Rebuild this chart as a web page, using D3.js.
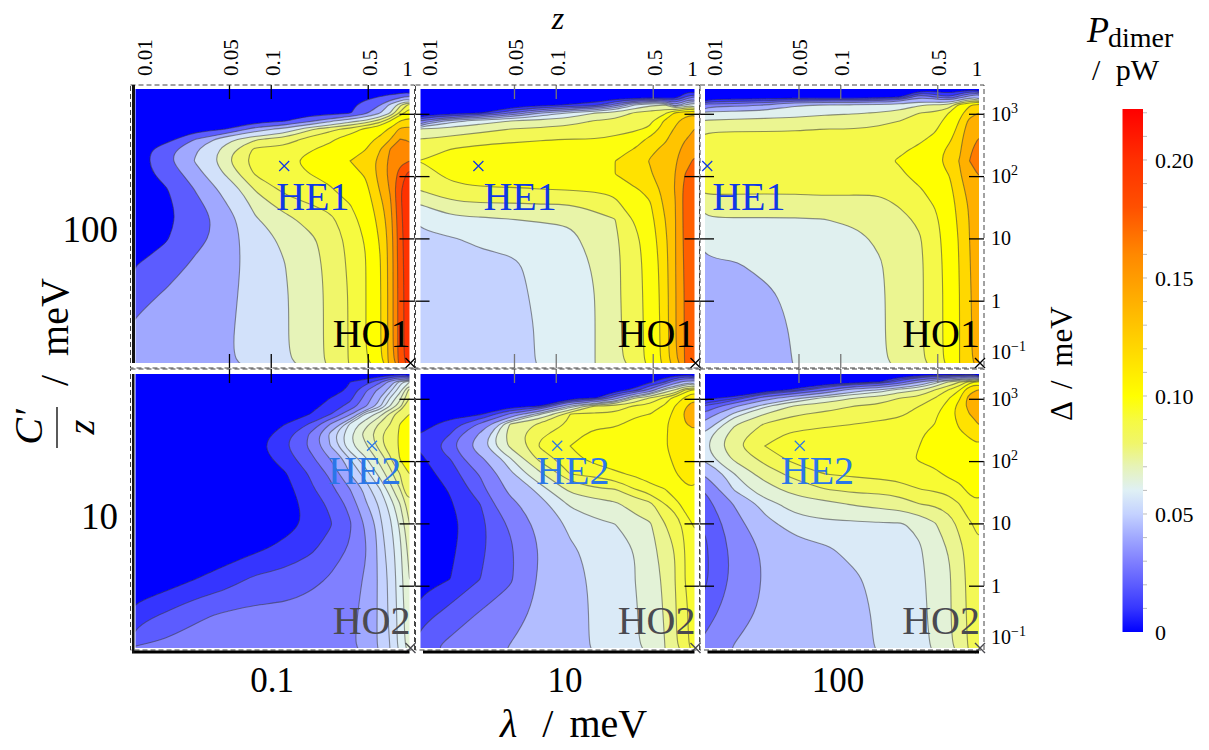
<!DOCTYPE html>
<meta charset="utf-8">
<style>
body{ margin: 0; background: white; }
text{ font-family: "Liberation Serif", serif; fill: black; }
.it{ font-style: italic; }
</style>
<svg id="chart" width="1209" height="750"></svg>
<script src="https://cdnjs.cloudflare.com/ajax/libs/d3/7.8.5/d3.min.js"></script>
<script>

// P is in fW (1/1000 pW), one inner list per z, running from the largest delta to the smallest
var zGrid = [0.0106, 0.0174, 0.0286, 0.0471, 0.0774, 0.127, 0.192, 0.268, 0.373, 0.479, 0.614, 0.724, 0.855, 1]
var deltaGrid = [2500, 1860, 1385, 1030, 766, 570, 392, 272, 175, 108, 62, 35.5, 20.4, 9.8, 3.9, 1.27, 0.35, 0.1]

var levelsA1 = [20, 40, 55, 70, 80, 90, 100, 120, 140, 160, 180, 200]
var powerA1 = [
  [0,0,0,0,0,0,2,5,7,8,9,10,12,15,19,32,44,48],
  [0,0,0,0,0,1,10,33,36,28,18,15,14,18,29,42,50,50],
  [0,0,0,0,2,12,40,53,56,49,41,35,32,35,43,48,50,51],
  [0,0,0,3,8,19,65,74,78,71,60,54,47,46,47,50,52,53],
  [0,0,0,4,12,47,79,92,95,91,81,74,69,65,63,62,62,62],
  [0,0,0,6,19,60,84,93,98,97,93,85,77,72,70,69,69,69],
  [0,0,2,10,37,78,94,99,103,100,96,90,84,78,76,76,76,76],
  [0,0,4,12,52,87,98,103,106,103,99,93,88,84,83,82,82,82],
  [0,0,15,18,66,93,106,113,120,113,106,100,96,93,92,91,91,91],
  [0,15,28,36,73,102,112,119,128,122,113,107,104,101,99,99,99,99],
  [0,21,40,54,85,110,125,139,146,147,142,134,127,122,119,118,118,118],
  [0,28,58,70,100,123,139,160,165,166,162,156,152,148,147,147,147,147],
  [1,35,78,92,120,143,160,168,176,187,198,196,194,192,191,190,190,190],
  [3,45,95,108,128,145,158,170,180,208,217,218,218,217,216,215,215,215]
]

var levelsA2 = [10, 20, 30, 40, 50, 60, 72, 85, 98, 115, 130, 148, 175]
var powerA2 = [
  [0,0,0,0,30,72,85,92,98,93,86,72,63,57,54,53,52,52],
  [0,0,0,3,55,76,89,98,103,101,95,82,69,59,55,54,53,53],
  [0,0,0,8,66,81,92,102,105,104,97,84,70,62,57,55,54,54],
  [0,0,0,30,72,85,95,103,106,105,97,84,72,64,58,57,56,56],
  [0,0,5,50,76,87,97,104,107,106,98,85,73,67,63,62,61,61],
  [0,0,11,62,79,90,98,105,108,107,99,85,73,70,68,67,67,67],
  [0,0,15,72,86,91,98,106,110,108,100,89,81,75,73,72,72,72],
  [0,0,35,76,88,94,100,108,115,115,101,95,85,83,82,82,81,81],
  [0,0,60,87,92,96,105,116,124,123,114,107,100,94,93,93,93,93],
  [0,0,70,90,95,100,120,127,131,128,118,114,110,107,104,103,102,102],
  [0,0,72,95,118,125,128,133,146,144,137,133,130,126,124,123,122,122],
  [0,3,40,118,127,131,136,140,145,148,149,147,146,146,146,145,145,144],
  [0,20,60,125,135,142,147,155,163,175,183,183,183,182,180,178,178,177],
  [0,30,70,128,140,148,153,165,180,190,195,195,195,194,193,192,192,191]
]

var levelsA3 = [10, 20, 30, 42, 61, 75, 88, 100, 120, 140, 165]
var powerA3 = [
  [0,0,35,66,76,87,90,92,93,92,90,85,74,67,59,52,46,44],
  [0,0,36,68,77,87,91,93,94,93,90,84,74,69,60,53,47,45],
  [0,0,42,69,78,87,91,94,95,93,90,84,74,70,65,58,53,52],
  [0,0,60,70,79,87,92,95,96,94,90,84,74,71,68,65,63,62],
  [0,0,61,73,81,88,93,96,97,95,91,84,75,72,68,66,65,65],
  [0,0,62,74,82,88,93,96,97,95,90,85,77,72,70,69,69,69],
  [0,3,65,76,83,91,94,97,98,96,90,85,80,77,74,73,73,73],
  [0,8,68,79,88,92,95,98,101,98,93,89,85,82,80,80,80,79],
  [0,40,74,88,92,95,98,102,108,105,99,94,90,87,86,86,86,86],
  [0,30,76,90,94,98,103,108,112,110,105,101,97,95,94,94,94,94],
  [0,20,80,101,106,110,117,125,132,121,116,112,109,107,106,105,105,105],
  [0,35,105,113,121,126,132,136,141,137,130,127,125,122,121,120,120,120],
  [0,50,118,133,145,152,158,162,165,160,150,143,141,140,139,138,137,137],
  [2,60,125,140,150,158,166,172,175,166,158,155,153,152,151,150,150,150]
]

var levelsB1 = [10, 20, 30, 40, 50, 55, 60, 65, 70, 75, 80, 100]
var powerB1 = [
  [0,0,0,0,0,0,0,0,0,0,0,0,0,1,2,2,14,31],
  [0,0,0,0,0,0,0,0,0,0,0,0,0,2,3,4,21,33],
  [0,0,0,0,0,0,0,0,0,0,0,0,1,2,5,10,28,35],
  [0,0,0,0,0,0,0,0,0,0,0,0,2,3,4,15,31,36],
  [0,0,0,0,0,0,0,3,6,4,3,3,3,4,8,22,33,37],
  [0,0,0,0,0,0,10,16,19,15,9,6,5,6,13,24,33,37],
  [0,0,0,0,5,10,21,31,32,27,21,18,14,12,18,27,35,38],
  [0,0,0,10,15,19,40,52,50,40,32,27,22,19,24,31,37,38],
  [0,10,13,17,23,38,61,64,64,55,50,40,33,29,31,36,38,39],
  [0,15,28,33,38,60,68,72,69,64,57,52,49,41,39,41,42,43],
  [0,28,44,50,54,68,76,79,77,72,67,60,56,54,53,52,52,52],
  [2,45,53,60,65,76,80,84,85,78,73,68,62,59,57,56,56,55],
  [3,58,63,69,73,85,101,104,104,101,80,75,70,66,64,63,62,62],
  [4,65,77,80,88,100,105,106,106,104,100,90,78,75,72,70,69,68]
]

var levelsB2 = [10, 20, 30, 45, 58, 65, 75, 85, 92, 98, 110, 140]
var powerB2 = [
  [0,0,0,0,0,0,5,10,12,8,5,3,2,2,3,6,15,27],
  [0,0,0,0,0,5,15,20,27,20,15,11,9,7,8,10,24,33],
  [0,0,0,0,2,8,32,47,55,42,31,26,20,17,18,20,31,38],
  [0,0,0,0,6,32,76,80,77,64,56,49,41,32,28,28,38,46],
  [0,0,0,0,8,64,87,91,93,88,73,61,55,50,46,47,49,50],
  [0,0,0,4,58,92,93,95,98,96,92,78,66,60,57,56,55,55],
  [0,0,0,7,86,93,96,100,103,100,94,84,70,63,60,59,59,59],
  [0,0,3,37,88,93,97,100,104,101,97,85,73,65,63,62,62,61],
  [0,0,14,75,93,97,100,103,105,103,99,92,80,70,65,65,64,64],
  [0,8,34,86,94,98,102,104,106,105,101,96,83,74,71,70,69,68],
  [0,20,67,94,99,104,108,108,109,106,102,98,92,85,80,77,76,75],
  [0,38,76,101,110,114,116,116,115,113,109,103,95,88,85,85,84,84],
  [0,50,92,112,136,145,138,125,120,118,114,108,101,94,92,92,91,91],
  [0,55,100,135,155,160,150,132,124,122,118,109,104,99,95,94,94,94]
]

var levelsB3 = [10, 15, 20, 32, 45, 58, 65, 75, 85, 92, 100, 115, 140]
var powerB3 = [
  [0,0,0,8,20,36,50,60,63,60,46,33,27,21,18,18,26,37],
  [0,0,0,12,43,61,74,80,84,77,65,60,46,40,36,35,40,46],
  [0,0,2,38,63,75,86,90,92,88,80,70,62,55,47,46,47,48],
  [0,0,12,55,76,84,89,93,95,94,88,80,68,62,54,50,50,50],
  [0,0,30,67,80,87,91,94,96,94,92,85,72,63,57,52,52,52],
  [0,5,53,75,85,88,92,94,96,95,93,88,76,63,60,57,56,55],
  [0,10,59,79,87,90,93,95,97,96,94,88,78,64,62,60,59,59],
  [0,25,70,85,89,91,94,96,98,97,94,90,80,64,63,62,61,61],
  [0,45,75,88,92,94,96,98,100,101,96,92,85,67,64,63,63,63],
  [0,60,85,92,95,98,100,105,108,103,98,93,86,74,70,68,67,66],
  [0,78,93,100,104,107,109,110,110,106,102,95,88,82,76,74,74,73],
  [0,85,100,113,122,124,117,113,112,108,103,98,92,87,83,82,81,81],
  [0,95,130,150,152,140,125,117,111,108,104,102,97,91,88,87,87,86],
  [2,105,142,158,160,155,141,125,114,110,106,103,99,94,91,90,90,90]
]

// colour bar stops, pW
var barValues = [0, 0.01, 0.02, 0.03, 0.04, 0.05, 0.06, 0.07, 0.08, 0.09, 0.10, 0.12, 0.14, 0.16, 0.18, 0.20, 0.2216]
var barColors = ['#0000ff', '#3636ff', '#5c5cff', '#8080ff', '#a0a8ff', '#c4d2ff', '#dff0f5', '#e6f3b8', '#f0f66a', '#f6fa40',
                 '#ffff00', '#ffd800', '#ffb000', '#ff8800', '#ff5000', '#ff3000', '#ff0000']
var barTicks = [0, 0.05, 0.10, 0.15, 0.20]
var barMinorTicks = d3.range(1, 23).map(function(d){ return d / 100 })

var zTicks = [0.05, 0.1, 0.5]
var zLabels = ['0.01', '0.05', '0.1', '0.5']
var deltaTicks = [1000, 100, 10, 1]
var deltaLabels = [[1000, '3'], [100, '2'], [10, ''], [1, ''], [0.1, '\u22121']]
var lambdaLabels = ['0.1', '10', '100']
var cLabels = ['100', '10']

var heNames = ['HE1', 'HE2']
var hoNames = ['HO1', 'HO2']
var heZ = [[0.125, 0.0277, 0.011], [0.537, 0.1025, 0.0511]]
var heDelta = [145, 176]
var hoPoint = [1, 0.1]

var powers = [powerA1, powerA2, powerA3, powerB1, powerB2, powerB3]
var levels = [levelsA1, levelsA2, levelsA3, levelsB1, levelsB2, levelsB3]

var svg = d3.select('#chart')

var colorScale = d3.scaleLinear().domain(barValues).range(barColors)
var colX = [132, 417, 701.5],
    colW = 277.5,
    rowTop = [89, 374],
    rowH = 274

var heText = ['#1038e6', '#2b76e8']
var hoText = ['#000', '#4a4a50']
var heDx = [[-8, 5, 5], [-44, -21, -19]]

svg.append('filter').attr('id', 'soft')
  .append('feGaussianBlur').attr('stdDeviation', .4)

colX.forEach(function(x0, c){
  rowTop.forEach(function(y0, r){
    var x = d3.scaleLog().domain([0.01, 1]).range([x0, x0 + colW])
    var y = d3.scaleLog().domain([0.1, 2500]).range([y0 + rowH, y0])

    // d3.contours keeps a half cell border, it is pushed behind the clip
    var nx = zGrid.length, ny = deltaGrid.length
    var gx = d3.scaleLinear()
        .domain([0].concat(zGrid.map(function(d, i){ return i + .5 }), [nx]))
        .range([x(zGrid[0]) - 8].concat(zGrid.map(x), [x(1) + 8]))
    var gy = d3.scaleLinear()
        .domain([0].concat(deltaGrid.map(function(d, i){ return i + .5 }), [ny]))
        .range([y0 - 8].concat(deltaGrid.map(y), [y0 + rowH + 8]))

    var idx = r * 3 + c
    var values = []
    deltaGrid.forEach(function(d, j){
      zGrid.forEach(function(e, i){ values.push(powers[idx][i][j]) })
    })

    var contours = d3.contours().size([nx, ny]).thresholds(levels[idx])(values)
    var line = d3.line()
        .x(function(d){ return gx(d[0]) })
        .y(function(d){ return gy(d[1]) })
        .curve(d3.curveBasisClosed)

    var left = x(zGrid[0]), right = x(1)
    var id = 'clip' + idx
    svg.append('clipPath').attr('id', id)
      .append('rect')
        .attr('x', left).attr('y', y0)
        .attr('width', right - left).attr('height', rowH)

    var g = svg.append('g').attr('clip-path', 'url(#' + id + ')')
      .append('g').attr('filter', 'url(#soft)')
    g.append('rect')
        .attr('x', left - 8).attr('y', y0 - 8)
        .attr('width', right - left + 16).attr('height', rowH + 16)
        .attr('fill', colorScale(0))

    g.selectAll('path').data(contours).enter().append('path')
        .attr('d', function(d){
          return d.coordinates.map(function(poly){
            return poly.map(function(ring){ return line(ring.slice(0, -1)) }).join('')
          }).join('')
        })
        .attr('fill-rule', 'evenodd')
        .attr('fill', function(d){ return colorScale(d.value / 1000) })
        .attr('stroke', '#3a3a3a')
        .attr('stroke-opacity', .55)
        .attr('stroke-width', 1.1)

    // frame and ticks
    var frameY = r ? 369 : 85, frameH = r ? 281 : 283
    var tickColor = c ? '#777' : '#000'

    var top = svg.append('g').attr('transform', 'translate(0,' + frameY + ')')
        .call(d3.axisTop(x).tickValues(zTicks).tickSize(-14).tickFormat(''))
    top.select('.domain').remove()
    top.selectAll('line').attr('stroke', tickColor).attr('stroke-width', 1.3)

    if (!r){
      var bot = svg.append('g').attr('transform', 'translate(0,368)')
          .call(d3.axisBottom(x).tickValues(zTicks).tickSize(-14).tickFormat(''))
      bot.select('.domain').remove()
      bot.selectAll('line').attr('stroke', tickColor).attr('stroke-width', 1.3)
    }

    var rightAxis = svg.append('g').attr('transform', 'translate(' + (right + 5) + ',0)')
        .call(d3.axisRight(y).tickValues(deltaTicks).tickSize(-15).tickFormat(''))
    rightAxis.select('.domain').remove()
    rightAxis.selectAll('line').attr('stroke', '#000').attr('stroke-width', 1.3)

    if (c){
      var leftAxis = svg.append('g').attr('transform', 'translate(' + (left - 5) + ',0)')
          .call(d3.axisLeft(y).tickValues(deltaTicks).tickSize(-14).tickFormat(''))
      leftAxis.select('.domain').remove()
      leftAxis.selectAll('line').attr('stroke', '#000').attr('stroke-width', 1.3)
    }

    svg.append('rect')
        .attr('x', left - 5).attr('y', frameY)
        .attr('width', right - left + 10).attr('height', frameH)
        .attr('fill', 'none')
        .attr('stroke', '#444')
        .attr('stroke-dasharray', '5 3')

    // marked points
    var cross = function(px, py, color, s, sw){
      svg.append('path')
          .attr('d', 'M' + (px - s) + ',' + (py - s) + 'L' + (px + s) + ',' + (py + s) +
                     'M' + (px - s) + ',' + (py + s) + 'L' + (px + s) + ',' + (py - s))
          .attr('stroke', color).attr('stroke-width', sw).attr('fill', 'none')
    }
    cross(x(heZ[r][c]), y(heDelta[r]), heText[r], 5, 1.2)
    cross(x(hoPoint[0]) + 1, y(hoPoint[1]), hoText[r], 5, 1.4)

    svg.append('text')
        .attr('x', x(heZ[r][c]) + heDx[r][c])
        .attr('y', y(heDelta[r]) + (r ? 38 : 44))
        .attr('font-size', 40)
        .style('fill', heText[r])
        .text(heNames[r])

    svg.append('text')
        .attr('x', x(hoPoint[0]) + 1)
        .attr('y', y(hoPoint[1]) - (r ? 14 : 16))
        .attr('text-anchor', 'end')
        .attr('font-size', 40)
        .style('fill', hoText[r])
        .text(hoNames[r])

    // right hand delta labels
    if (c == 2){
      deltaLabels.forEach(function(d){
        var t = svg.append('text')
            .attr('x', 991)
            .attr('y', y(d[0]) + (d[0] == 0.1 ? -4 : 7))
            .attr('font-size', 20)
        t.append('tspan').text(d[0] == 1 ? '1' : '10')
        if (d[1]) t.append('tspan').attr('dy', -8).attr('font-size', 14).text(d[1])
      })
    }

    // top z labels
    if (!r){
      svg.selectAll(null).data(zLabels).enter().append('text')
          .attr('transform', function(d, i){
            var px = i ? x(+d) + 9 : x0 + 20
            return 'translate(' + px + ',76)rotate(-90)'
          })
          .attr('font-size', 21)
          .text(function(d){ return d })
      svg.append('text')
          .attr('x', x(1) - 2).attr('y', 76)
          .attr('text-anchor', 'middle')
          .attr('font-size', 21)
          .text('1')
    }
  })

  // heavy bottom spines
  svg.append('rect')
      .attr('x', x0 + (c ? 6 : 0)).attr('y', 650.5)
      .attr('width', colW + (c ? -6 : 0)).attr('height', 3)
      .attr('fill', '#000')
})

svg.append('rect').attr('x', 132).attr('y', 85).attr('width', 3).attr('height', 278).attr('fill', '#111')
svg.append('rect').attr('x', 132).attr('y', 374).attr('width', 2.5).attr('height', 279).attr('fill', '#111')

// lambda labels and title
var lambdaX = [272, 565, 838]
svg.selectAll(null).data(lambdaLabels).enter().append('text')
    .attr('x', function(d, i){ return lambdaX[i] })
    .attr('y', 692)
    .attr('text-anchor', 'middle')
    .attr('font-size', 35)
    .text(function(d){ return d })

var lam = svg.append('text').attr('x', 500).attr('y', 737).attr('font-size', 40)
lam.append('tspan').attr('class', 'it').text('\u03bb')
lam.append('tspan').text(' / meV').attr('dx', 9).attr('word-spacing', 6)

svg.append('text').attr('class', 'it').attr('x', 558).attr('y', 29)
    .attr('text-anchor', 'middle').attr('font-size', 32).text('z')

// left C labels
var cY = [242, 529]
svg.selectAll(null).data(cLabels).enter().append('text')
    .attr('x', 118)
    .attr('y', function(d, i){ return cY[i] })
    .attr('text-anchor', 'end')
    .attr('font-size', 37)
    .text(function(d){ return d })

// C'/z / meV, rotated
svg.append('text').attr('class', 'it')
    .attr('transform', 'translate(42,427)rotate(-90)')
    .attr('text-anchor', 'middle').attr('font-size', 40).text('C\u2032')
svg.append('line').attr('x1', 57).attr('x2', 57).attr('y1', 407).attr('y2', 448)
    .attr('stroke', '#000').attr('stroke-width', 1.3)
svg.append('text').attr('class', 'it')
    .attr('transform', 'translate(94,427)rotate(-90)')
    .attr('text-anchor', 'middle').attr('font-size', 38).text('z')
svg.append('text')
    .attr('transform', 'translate(68,386)rotate(-90)')
    .attr('font-size', 40)
    .attr('word-spacing', 9)
    .text('/ meV')

// delta title
svg.append('text')
    .attr('transform', 'translate(1072,421)rotate(-90)')
    .attr('font-size', 31)
    .attr('word-spacing', 6)
    .text('\u0394 / meV')

// colour bar
var barY = d3.scaleLinear().domain([0, 0.2216]).range([632, 109])
var grad = svg.append('linearGradient').attr('id', 'bar')
    .attr('x1', 0).attr('x2', 0).attr('y1', 1).attr('y2', 0)
grad.selectAll('stop').data(barValues).enter().append('stop')
    .attr('offset', function(d){ return d / 0.2216 })
    .attr('stop-color', function(d, i){ return barColors[i] })

svg.append('rect')
    .attr('x', 1122.5).attr('y', 109)
    .attr('width', 20.5).attr('height', 523)
    .attr('fill', 'url(#bar)')

svg.selectAll(null).data(barMinorTicks).enter().append('line')
    .attr('x1', 1143).attr('x2', 1147)
    .attr('y1', barY).attr('y2', barY)
    .attr('stroke', '#bbb')

svg.selectAll(null).data(barTicks).enter().append('text')
    .attr('x', 1155)
    .attr('y', function(d){ return barY(d) + 8 })
    .attr('font-size', 22)
    .text(function(d){ return d ? d3.format('.2f')(d) : '0' })

svg.append('text').attr('class', 'it').attr('x', 1087).attr('y', 42).attr('font-size', 36).text('P')
svg.append('text').attr('x', 1108).attr('y', 47).attr('font-size', 28).text('dimer')
svg.append('text').attr('x', 1092).attr('y', 80).attr('font-size', 30).attr('word-spacing', 8).text('/ pW')

</script>
